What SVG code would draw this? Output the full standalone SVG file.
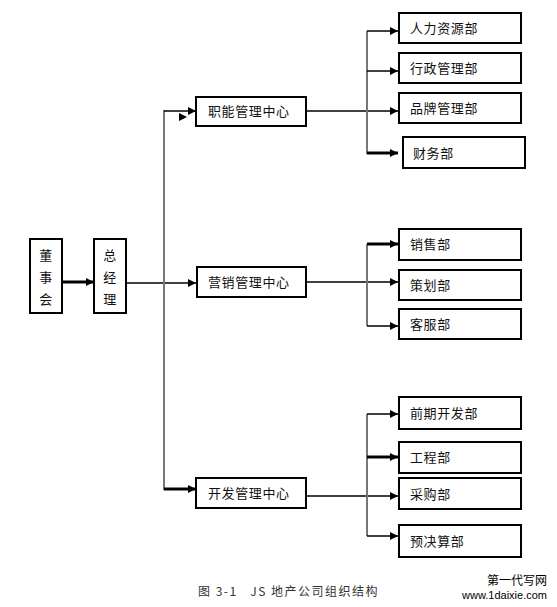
<svg xmlns="http://www.w3.org/2000/svg" width="557" height="607" viewBox="0 0 557 607">
<style>
.box{fill:#fff;stroke:#000;stroke-width:2}
.t{font-family:"Noto Sans CJK SC","Liberation Sans",sans-serif;font-size:13px;fill:#111;letter-spacing:0.6px}
.ln{stroke:#000;stroke-width:1.5;fill:none}
.thk{stroke:#000;stroke-width:3;fill:none}
.gv{stroke:#777;stroke-width:2;fill:none}
.cap{font-family:"Noto Sans CJK SC","Liberation Sans",sans-serif;font-size:12px;fill:#333;letter-spacing:1.5px}
</style>
<defs>
<marker id="ah" viewBox="0 0 10 10" refX="10" refY="5" markerWidth="9" markerHeight="8" markerUnits="userSpaceOnUse" orient="auto">
<path d="M0,0 L10,5 L0,10 z" fill="#000"/>
</marker>
</defs>
<rect width="557" height="607" fill="#fff"/>
<g id="connectors">
<line class="thk" x1="62" y1="282" x2="94" y2="282" marker-end="url(#ah)"/>
<line class="ln" x1="126" y1="283" x2="196" y2="283" stroke-width="1" marker-end="url(#ah)"/>
<line class="gv" x1="164" y1="110" x2="164" y2="490"/>
<line class="ln" x1="164" y1="111" x2="196" y2="111" stroke-width="2" marker-end="url(#ah)"/>
<path d="M179,113 L187,117 L179,121 z" fill="#000"/>
<line class="thk" x1="164" y1="489" x2="196" y2="489" marker-end="url(#ah)"/>
<line class="ln" x1="306" y1="111" x2="398" y2="111" marker-end="url(#ah)"/>
<line class="gv" x1="367" y1="31" x2="367" y2="154"/>
<line class="ln" x1="367" y1="31" x2="398" y2="31" stroke-width="2" marker-end="url(#ah)"/>
<line class="ln" x1="367" y1="71" x2="398" y2="71" marker-end="url(#ah)"/>
<line class="thk" x1="367" y1="153" x2="398" y2="153" marker-end="url(#ah)"/>
<line class="ln" x1="306" y1="282" x2="398" y2="282" marker-end="url(#ah)"/>
<line class="gv" x1="367" y1="244" x2="367" y2="326"/>
<line class="thk" x1="367" y1="244" x2="398" y2="244" marker-end="url(#ah)"/>
<line class="ln" x1="367" y1="326" x2="398" y2="326" marker-end="url(#ah)"/>
<line class="ln" x1="306" y1="496" x2="398" y2="496" marker-end="url(#ah)"/>
<line class="gv" x1="367" y1="414" x2="367" y2="536"/>
<line class="ln" x1="367" y1="414" x2="398" y2="414" stroke-width="2" marker-end="url(#ah)"/>
<line class="thk" x1="367" y1="457" x2="398" y2="457" marker-end="url(#ah)"/>
<line class="ln" x1="367" y1="536" x2="398" y2="536" marker-end="url(#ah)"/>
</g>
<g id="n-board"><rect class="box" x="30" y="239" width="32" height="74"/>
<text class="t" x="46" y="260" text-anchor="middle">董</text><text class="t" x="46" y="282" text-anchor="middle">事</text><text class="t" x="46" y="304" text-anchor="middle">会</text></g>
<g id="n-gm"><rect class="box" x="94" y="239" width="32" height="74"/>
<text class="t" x="110" y="260" text-anchor="middle">总</text><text class="t" x="110" y="282" text-anchor="middle">经</text><text class="t" x="110" y="304" text-anchor="middle">理</text></g>
<g id="n-func"><rect class="box" x="196" y="97" width="110" height="29"/><text class="t" x="208" y="116">职能管理中心</text></g>
<g id="n-mkt"><rect class="box" x="197" y="267" width="109" height="30"/><text class="t" x="208" y="287">营销管理中心</text></g>
<g id="n-dev"><rect class="box" x="196" y="478" width="110" height="30"/><text class="t" x="208" y="498">开发管理中心</text></g>
<g id="n-hr"><rect class="box" x="399" y="13" width="122" height="30"/><text class="t" x="410" y="33">人力资源部</text></g>
<g id="n-admin"><rect class="box" x="399" y="53" width="122" height="30"/><text class="t" x="410" y="73">行政管理部</text></g>
<g id="n-brand"><rect class="box" x="399" y="93" width="122" height="30"/><text class="t" x="410" y="113">品牌管理部</text></g>
<g id="n-fin"><rect class="box" x="403" y="137" width="122" height="31"/><text class="t" x="413" y="158">财务部</text></g>
<g id="n-sales"><rect class="box" x="399" y="229" width="122" height="31"/><text class="t" x="410" y="249">销售部</text></g>
<g id="n-plan"><rect class="box" x="399" y="270" width="122" height="30"/><text class="t" x="410" y="290">策划部</text></g>
<g id="n-cs"><rect class="box" x="399" y="309" width="122" height="30"/><text class="t" x="410" y="329">客服部</text></g>
<g id="n-pre"><rect class="box" x="399" y="397" width="122" height="32"/><text class="t" x="410" y="418">前期开发部</text></g>
<g id="n-eng"><rect class="box" x="399" y="442" width="122" height="31"/><text class="t" x="410" y="462">工程部</text></g>
<g id="n-buy"><rect class="box" x="399" y="478" width="122" height="31"/><text class="t" x="410" y="499">采购部</text></g>
<g id="n-budget"><rect class="box" x="399" y="525" width="122" height="32"/><text class="t" x="410" y="546">预决算部</text></g>
<text class="cap" x="198" y="596" xml:space="preserve">图 3-1   JS 地产公司组织结构</text>
<text x="547" y="585" text-anchor="end" font-family="Noto Sans CJK SC,sans-serif" font-size="12" fill="#000">第一代写网</text>
<text x="547" y="599" text-anchor="end" font-family="Liberation Sans,sans-serif" font-size="11" fill="#000">www.1daixie.com</text>
</svg>
